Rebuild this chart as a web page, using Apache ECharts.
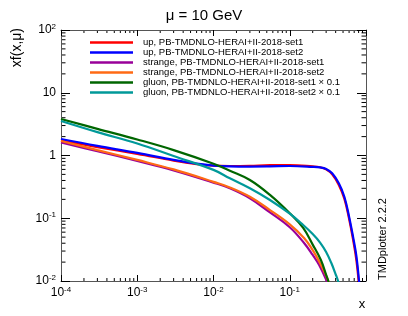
<!DOCTYPE html>
<html>
<head>
<meta charset="utf-8">
<script src="https://cdn.jsdelivr.net/npm/echarts@6/dist/echarts.min.js"></script>
<style>html,body{margin:0;padding:0;background:#fff}#c{width:408px;height:316px}</style>
</head>
<body>
<div id="c"></div>
<script>
// ---- data ----
const seriesNames = [
  'up, PB-TMDNLO-HERAI+II-2018-set1',
  'up, PB-TMDNLO-HERAI+II-2018-set2',
  'strange, PB-TMDNLO-HERAI+II-2018-set1',
  'strange, PB-TMDNLO-HERAI+II-2018-set2',
  'gluon, PB-TMDNLO-HERAI+II-2018-set1 \u00d7 0.1',
  'gluon, PB-TMDNLO-HERAI+II-2018-set2 \u00d7 0.1'
];
const upX = [1e-4, 3e-4, 1e-3, 3e-3, 6e-3, 1e-2, 0.0164, 0.03, 0.055, 0.1, 0.2, 0.25, 0.3, 0.36, 0.44, 0.52, 0.6, 0.676, 0.75, 0.81, 0.86];
const upSet1Y = [1.74, 1.36, 1.06, 0.83, 0.73, 0.69, 0.68, 0.685, 0.70, 0.70, 0.67, 0.65, 0.60, 0.50, 0.34, 0.205, 0.098, 0.046, 0.021, 0.0085, 0.0035];
const upSet2Y = [1.83, 1.42, 1.10, 0.85, 0.74, 0.69, 0.67, 0.665, 0.67, 0.68, 0.66, 0.645, 0.61, 0.52, 0.36, 0.22, 0.106, 0.051, 0.0245, 0.01, 0.004];
const strangeX = [1e-4, 3e-4, 1e-3, 3e-3, 1e-2, 0.0164, 0.03, 0.055, 0.1, 0.155, 0.2, 0.243, 0.3, 0.33, 0.36];
const strangeSet1Y = [1.62, 1.17, 0.82, 0.58, 0.37, 0.30, 0.208, 0.124, 0.072, 0.040, 0.026, 0.018, 0.0105, 0.0075, 0.0055];
const strangeSet2Y = [1.70, 1.22, 0.85, 0.60, 0.38, 0.31, 0.22, 0.135, 0.08, 0.048, 0.031, 0.0205, 0.0122, 0.009, 0.0065];
const gluon1X = [1e-4, 3e-4, 1e-3, 3e-3, 1e-2, 0.0164, 0.03, 0.055, 0.1, 0.15, 0.2, 0.256, 0.3, 0.32, 0.35];
const gluonSet1Y = [3.82, 2.66, 1.80, 1.22, 0.74, 0.573, 0.407, 0.235, 0.12, 0.07, 0.038, 0.0216, 0.0125, 0.01, 0.0065];
const gluon2X = [1e-4, 3e-4, 1e-3, 3e-3, 1e-2, 0.0164, 0.03, 0.055, 0.1, 0.15, 0.2, 0.25, 0.3, 0.35, 0.4, 0.43, 0.47];
const gluonSet2Y = [3.55, 2.36, 1.55, 0.98, 0.59, 0.433, 0.30, 0.195, 0.118, 0.078, 0.056, 0.041, 0.029, 0.0195, 0.0128, 0.01, 0.0068];
const xTickExps = [-4, -3, -2, -1];
const yTickExps = [-2, -1, 0, 1, 2];
const colors = ['#ff0000', '#0000ff', '#990099', '#ff6a14', '#006600', '#009999'];

const FONT = '"Liberation Sans", Arial, Helvetica, sans-serif';
const pairs = (xs, ys) => xs.map((x, i) => [x, ys[i]]);
const seriesData = [
  pairs(upX, upSet1Y), pairs(upX, upSet2Y),
  pairs(strangeX, strangeSet1Y), pairs(strangeX, strangeSet2Y),
  pairs(gluon1X, gluonSet1Y), pairs(gluon2X, gluonSet2Y)
];

const rich = {
  b: {fontSize: 12, lineHeight: 14, fontFamily: FONT, color: '#000'},
  s: {fontSize: 8, lineHeight: 8, fontFamily: FONT, color: '#000', verticalAlign: 'top'}
};
function powLabel(v, skipOne) {
  const e = Math.round(Math.log10(v));
  if (e === 0) return skipOne ? '' : '{b|1}';
  if (e === 1) return '{b|10}';
  return '{b|10}{s|' + e + '}';
}

const chart = echarts.init(document.getElementById('c'), null, {renderer: 'canvas'});
const axisLineStyle = {color: '#555', width: 1};
const gridL = 61, gridT = 30, gridW = 305, gridH = 251;

const option = {
  animation: false,
  backgroundColor: '#fff',
  title: {
    text: '\u03bc = 10 GeV', left: 'center', top: 3,
    textStyle: {fontSize: 15, fontWeight: 'normal', fontFamily: FONT, color: '#000'}
  },
  grid: {left: gridL, top: gridT, width: gridW, height: gridH, show: false},
  legend: {
    orient: 'vertical', left: 90, top: 37.5, padding: 0, itemWidth: 43, itemHeight: 2.5, itemGap: 0,
    icon: 'rect', selectedMode: false,
    textStyle: {fontSize: 9.5, lineHeight: 9.5, fontFamily: FONT, color: '#000', padding: [0, 0, 0, 5]},
    data: seriesNames
  },
  xAxis: [
    {type: 'log', logBase: 10, min: 1e-4, max: 1, position: 'bottom', splitNumber: 4,
     axisLine: {show: true, lineStyle: axisLineStyle},
     axisTick: {show: true, inside: true, length: 6, lineStyle: {color: '#000'}},
     axisLabel: {margin: 5, formatter: v => powLabel(v, true), rich: rich},
     splitLine: {show: false}},
    {type: 'log', logBase: 10, min: 1e-4, max: 1, position: 'top', splitNumber: 4,
     axisLine: {show: true, lineStyle: axisLineStyle},
     axisTick: {show: true, inside: true, length: 6, lineStyle: {color: '#000'}},
     axisLabel: {show: false}, splitLine: {show: false}}
  ],
  yAxis: [
    {type: 'log', logBase: 10, min: 0.01, max: 100, position: 'left', splitNumber: 4,
     axisLine: {show: true, lineStyle: axisLineStyle},
     axisTick: {show: true, inside: true, length: 9, lineStyle: {color: '#000'}},
     axisLabel: {margin: 5, formatter: v => powLabel(v, false), rich: rich},
     splitLine: {show: false}},
    {type: 'log', logBase: 10, min: 0.01, max: 100, position: 'right', splitNumber: 4,
     axisLine: {show: true, lineStyle: axisLineStyle},
     axisTick: {show: true, inside: true, length: 9, lineStyle: {color: '#000'}},
     axisLabel: {show: false}, splitLine: {show: false}}
  ],
  series: seriesData.map((d, i) => ({
    name: seriesNames[i], type: 'line', xAxisIndex: 0, yAxisIndex: 0,
    data: d, smooth: 0.4, showSymbol: false, symbol: 'none',
    clip: true, color: colors[i],
    lineStyle: {width: 2.2, color: colors[i]}
  }))
};
chart.setOption(option);

// minor ticks and free texts
const g = [];
for (const e of xTickExps) {
  for (let k = 2; k <= 9; k++) {
    const px = chart.convertToPixel({xAxisIndex: 0}, k * Math.pow(10, e));
    g.push({type: 'line', shape: {x1: px, y1: gridT + gridH, x2: px, y2: gridT + gridH - 3}, style: {stroke: '#000', lineWidth: 1}});
    g.push({type: 'line', shape: {x1: px, y1: gridT, x2: px, y2: gridT + 3}, style: {stroke: '#000', lineWidth: 1}});
  }
}
for (const e of yTickExps.slice(0, -1)) {
  for (let k = 2; k <= 9; k++) {
    const py = chart.convertToPixel({yAxisIndex: 0}, k * Math.pow(10, e));
    g.push({type: 'line', shape: {x1: gridL, y1: py, x2: gridL + 4.5, y2: py}, style: {stroke: '#000', lineWidth: 1}});
    g.push({type: 'line', shape: {x1: gridL + gridW, y1: py, x2: gridL + gridW - 4.5, y2: py}, style: {stroke: '#000', lineWidth: 1}});
  }
}
g.push({type: 'text', x: 17, y: 28, rotation: Math.PI / 2,
  style: {text: 'xf(x,\u03bc)', font: '14px ' + FONT, fill: '#000', align: 'right', verticalAlign: 'middle'}});
g.push({type: 'text', x: 362, y: 304,
  style: {text: 'x', font: '13px ' + FONT, fill: '#000', align: 'center', verticalAlign: 'middle'}});
g.push({type: 'text', x: 383, y: 280, rotation: Math.PI / 2,
  style: {text: 'TMDplotter 2.2.2', font: '11px ' + FONT, fill: '#000', align: 'left', verticalAlign: 'middle'}});
chart.setOption({graphic: g});
</script>
</body>
</html>
